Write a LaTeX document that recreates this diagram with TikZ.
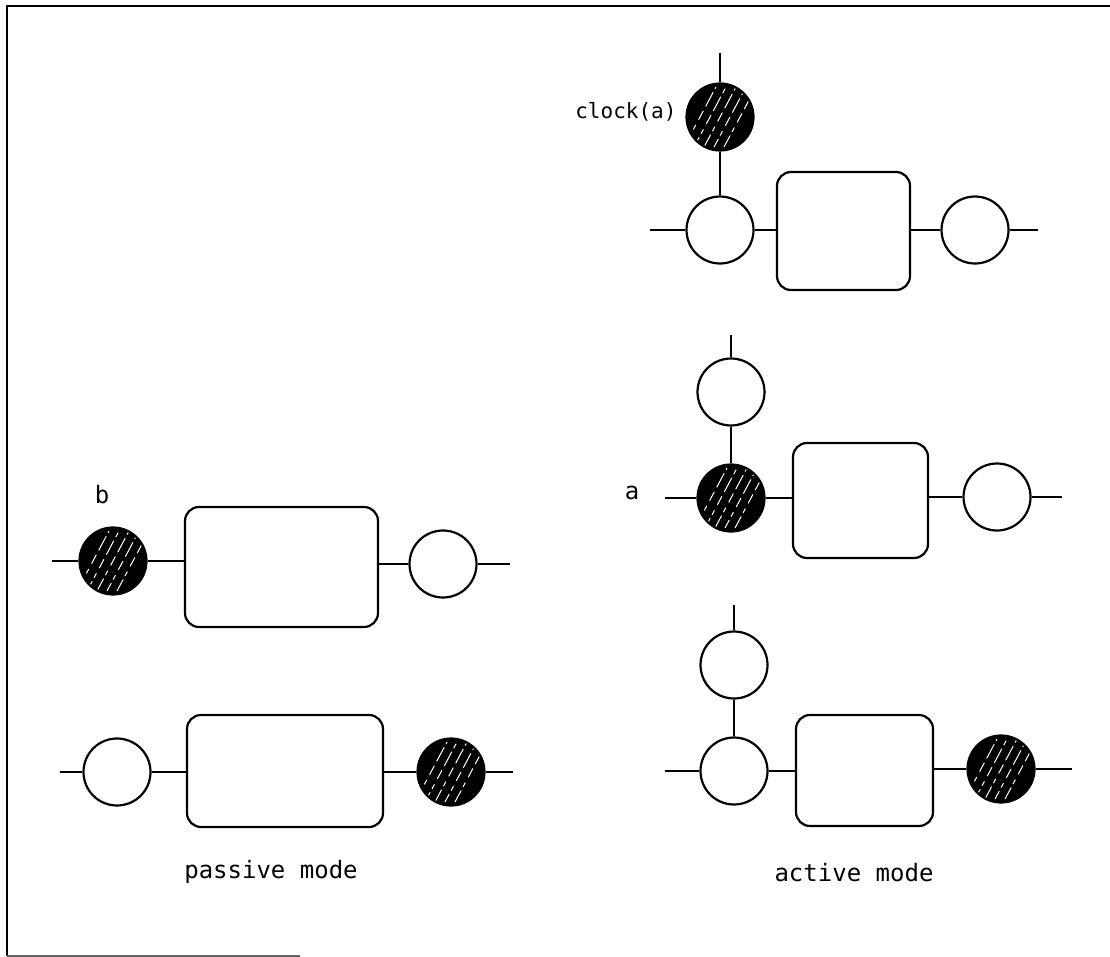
\documentclass[tikz,border=0pt]{standalone}
\usepackage{fontspec}
\setmonofont{DejaVu Sans Mono}
\usetikzlibrary{calc}
\tikzset{
  x=1pt, y=-1pt,
  wire/.style={line width=2.2pt},
  port/.style={circle, draw, line width=2.2pt, minimum size=67pt, inner sep=0pt, fill=white},
  hot/.style={port, fill=black,
    path picture={
      \foreach \i/\o in {-2/0,-1/5,0/2,1/7,2/3}
        \draw[white, line width=1pt, dash pattern=on 16pt off 4pt on 5pt off 6pt on 10pt off 5pt, dash phase=\o pt]
          ($(path picture bounding box.center)+(\i*10-16,30)$) -- ++(32,-60);
    }},
  blk/.style={draw, line width=2.2pt, rounded corners=14pt, inner sep=0pt},
  lbl/.style={font=\ttfamily\fontsize{24}{28}\selectfont},
  slbl/.style={font=\ttfamily\fontsize{21}{24}\selectfont}
}
\begin{document}
\begin{tikzpicture}
\useasboundingbox (0,0) rectangle (1110,957);
% frame
\draw[line width=2.4pt] (1110,6) -- (7,6) -- (7,956);
\draw[line width=1.5pt, black!60] (7,956) -- (300,956);

% ---------- group A (top right)
\coordinate (a0) at (720,53);
\node[hot]  (a1) at (720,117) {};
\node[port] (a2) at (720,230) {};
\coordinate (al) at (650,230);
\node[blk, minimum width=133pt, minimum height=118pt] (ab) at (843.5,231) {};
\node[port] (a3) at (975,230) {};
\coordinate (ar) at (1038,230);
\draw[wire] (a0) -- (a1.north) (a1.south) -- (a2.north);
\draw[wire] (al) -- (a2.west) (a2.east) -- (a2.east -| ab.west) (a3.west -| ab.east) -- (a3.west) (a3.east) -- (ar);
\node[slbl, anchor=east] (clk) at (680,112) {clock(a)};

% ---------- group B (middle right)
\coordinate (b0) at (731,335);
\node[port] (b1) at (731,392) {};
\node[hot]  (b2) at (731,498) {};
\coordinate (bl) at (665,498);
\node[blk, minimum width=135pt, minimum height=115pt] (bb) at (860.5,500.5) {};
\node[port] (b3) at (997,497) {};
\coordinate (br) at (1062,497);
\draw[wire] (b0) -- (b1.north) (b1.south) -- (b2.north);
\draw[wire] (bl) -- (b2.west) (b2.east) -- (b2.east -| bb.west) (b3.west -| bb.east) -- (b3.west) (b3.east) -- (br);
\node[lbl] (la) at (632,493) {a};

% ---------- group C (bottom right)
\coordinate (c0) at (734,605);
\node[port] (c1) at (734,665) {};
\node[port] (c2) at (734,771) {};
\coordinate (cl) at (665,771);
\node[blk, minimum width=137pt, minimum height=111pt] (cb) at (864.5,770.5) {};
\node[hot]  (c3) at (1001,769) {};
\coordinate (cr) at (1072,769);
\draw[wire] (c0) -- (c1.north) (c1.south) -- (c2.north);
\draw[wire] (cl) -- (c2.west) (c2.east) -- (c2.east -| cb.west) (c3.west -| cb.east) -- (c3.west) (c3.east) -- (cr);

% ---------- group D (left middle)
\node[hot]  (d1) at (113,561) {};
\coordinate (dl) at (52,561);
\node[blk, minimum width=193pt, minimum height=120pt] (db) at (281.5,567) {};
\node[port] (d2) at (443,564) {};
\coordinate (dr) at (510,564);
\draw[wire] (dl) -- (d1.west) (d1.east) -- (d1.east -| db.west) (d2.west -| db.east) -- (d2.west) (d2.east) -- (dr);
\node[lbl] (lb) at (102,495) {b};

% ---------- group E (left bottom)
\node[port] (e1) at (117,772) {};
\coordinate (el) at (60,772);
\node[blk, minimum width=196pt, minimum height=112pt] (eb) at (285,771) {};
\node[hot]  (e2) at (451,772) {};
\coordinate (er) at (513,772);
\draw[wire] (el) -- (e1.west) (e1.east) -- (e1.east -| eb.west) (e2.west -| eb.east) -- (e2.west) (e2.east) -- (er);

% captions
\node[lbl] (pm) at (271,872) {passive mode};
\node[lbl] (am) at (854,873) {active mode};
\end{tikzpicture}
\end{document}
